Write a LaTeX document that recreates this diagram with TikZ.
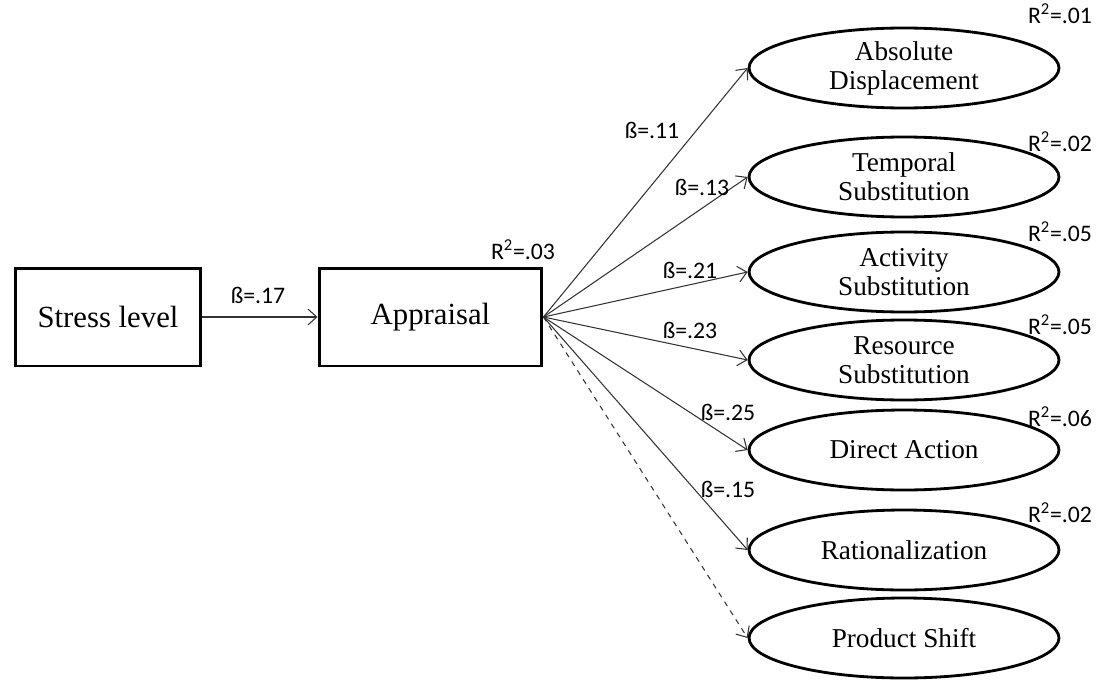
\documentclass[tikz,border=0pt]{standalone}
\usepackage{fontspec}
\setmainfont{Liberation Serif}
\newfontfamily\lblfont{Carlito}
\usetikzlibrary{arrows.meta,positioning,shapes.geometric}

\begin{document}
\begin{tikzpicture}[x=0.02cm, y=-0.02cm,
  vbox/.style={rectangle, draw, line width=1.7pt, minimum width=3.72cm,
               minimum height=1.96cm, font=\fontsize{17.5}{19}\selectfont},
  lbox/.style={ellipse, draw, line width=1.6pt, minimum width=6.2cm,
               minimum height=1.6cm, inner sep=0pt, align=center,
               font=\fontsize{15.5}{16.5}\selectfont},
  coef/.style={font=\lblfont\fontsize{13.5}{15}\selectfont, inner sep=1pt},
  arr/.style={-{Straight Barb[length=5pt,width=9pt]}, line width=0.6pt, draw=black!80}
]
\useasboundingbox (0,0) rectangle (1101,679);

% Observed variables
\node[vbox] (stress) at (108,317) {Stress level};
\node[vbox, minimum width=4.46cm] (app) at (430.5,317) {Appraisal};

% Coping strategies
\node[lbox] (absd) at (904,68)  {Absolute\\Displacement};
\node[lbox] (temp) at (904,177) {Temporal\\Substitution};
\node[lbox] (actv) at (904,272) {Activity\\Substitution};
\node[lbox] (resr) at (904,360) {Resource\\Substitution};
\node[lbox] (dira) at (904,450) {Direct Action};
\node[lbox] (ratn) at (904,550) {Rationalization};
\node[lbox] (prod) at (904,638) {Product Shift};

% Paths
\draw[arr] (stress) -- (app);
\draw[arr] (app.east) -- (absd.west);
\draw[arr] (app.east) -- (temp.west);
\draw[arr] (app.east) -- (actv.west);
\draw[arr] (app.east) -- (resr.west);
\draw[arr] (app.east) -- (dira.west);
\draw[arr] (app.east) -- (ratn.west);
\draw[arr, dashed] (app.east) -- (prod.west);

% Coefficients
\node[coef] (b17) at (258,295) {ß=.17};
\node[coef] (b11) at (652,130) {ß=.11};
\node[coef] (b13) at (702,187) {ß=.13};
\node[coef] (b21) at (690,270) {ß=.21};
\node[coef] (b23) at (690,330) {ß=.23};
\node[coef] (b25) at (728,412) {ß=.25};
\node[coef] (b15) at (728,489) {ß=.15};

% Explained variance
\node[coef] (r03) at (523,250) {R\textsuperscript{2}=.03};
\node[coef] (r01) at (1060,14)  {R\textsuperscript{2}=.01};
\node[coef] (r02) at (1060,142) {R\textsuperscript{2}=.02};
\node[coef] (r05a) at (1060,232) {R\textsuperscript{2}=.05};
\node[coef] (r05b) at (1060,325) {R\textsuperscript{2}=.05};
\node[coef] (r06) at (1060,417) {R\textsuperscript{2}=.06};
\node[coef] (r02b) at (1060,513) {R\textsuperscript{2}=.02};
\end{tikzpicture}
\end{document}
